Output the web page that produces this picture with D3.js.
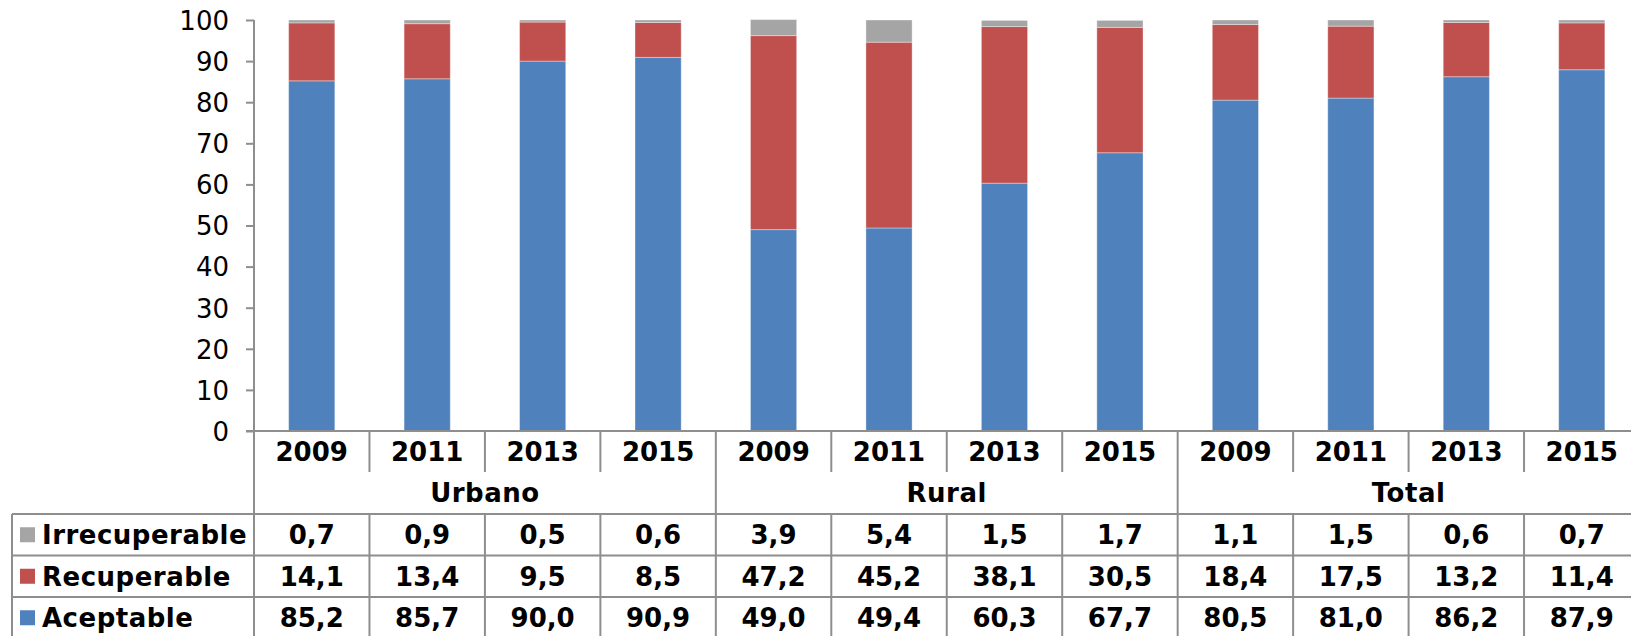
<!DOCTYPE html>
<html><head><meta charset="utf-8">
<script src="https://cdn.jsdelivr.net/npm/d3@7"></script>
<style>html,body{margin:0;padding:0;background:#fff;overflow:hidden}svg{display:block}</style>
</head><body><div id="chart"></div>
<script>
const years = ["2009","2011","2013","2015"];
const groups = ["Urbano","Rural","Total"];
const seriesNames = ["Irrecuperable","Recuperable","Aceptable"];
const irrecuperable = [0.7,0.9,0.5,0.6,3.9,5.4,1.5,1.7,1.1,1.5,0.6,0.7];
const recuperable = [14.1,13.4,9.5,8.5,47.2,45.2,38.1,30.5,18.4,17.5,13.2,11.4];
const aceptable = [85.2,85.7,90.0,90.9,49.0,49.4,60.3,67.7,80.5,81.0,86.2,87.9];
const yTicks = [0,10,20,30,40,50,60,70,80,90,100];
const colors = {Irrecuperable:"#A5A5A5", Recuperable:"#C0504D", Aceptable:"#4F81BD"};

(function(){
const W = 1631, H = 636;
const pLeft = 254, pRight = 1639.5, pTop = 20, pBottom = 431;
const gridColor = "#8e8e8e";
const font = "DejaVu Sans, Verdana, sans-serif";

const cols = d3.range(12);
const rows = cols.map(i => ({i, group: groups[Math.floor(i/4)], year: years[i%4],
  Aceptable: aceptable[i], Recuperable: recuperable[i], Irrecuperable: irrecuperable[i]}));

const svg = d3.select("#chart").append("svg").attr("width", W).attr("height", H);

const x = d3.scaleBand().domain(cols).range([pLeft, pRight]).paddingInner(0.6).paddingOuter(0.3);
const xc = d3.scaleBand().domain(cols).range([pLeft, pRight]).padding(0);
const y = d3.scaleLinear().domain([0,100]).range([pBottom, pTop]);

const stack = d3.stack().keys(["Aceptable","Recuperable","Irrecuperable"]);
const stacked = stack(rows);

svg.append("g").selectAll("g").data(stacked).join("g")
  .attr("fill", d => colors[d.key])
  .selectAll("rect").data(d => d).join("rect")
  .attr("x", d => x(d.data.i))
  .attr("width", x.bandwidth())
  .attr("y", d => y(d[1]))
  .attr("height", d => y(d[0]) - y(d[1]))
  .attr("stroke", "rgba(255,255,255,0.35)").attr("stroke-width", 1);

const yAxis = d3.axisLeft(y).tickValues(yTicks).tickSize(8).tickPadding(17);
const ga = svg.append("g").attr("transform", `translate(${pLeft},0)`).call(yAxis);
ga.select(".domain").remove();
ga.selectAll(".tick line").attr("stroke", gridColor).attr("stroke-width", 2);
ga.selectAll(".tick text").attr("font-family", font).attr("font-size", 26).attr("fill", "#000").attr("dy", "0.36em");

const lines = svg.append("g").attr("stroke", gridColor).attr("stroke-width", 2);
lines.append("line").attr("x1", pLeft).attr("x2", pLeft).attr("y1", pTop).attr("y2", H);
lines.append("line").attr("x1", pLeft - 8).attr("x2", pRight).attr("y1", pBottom).attr("y2", pBottom);

const yearRowBottom = 472, groupLineY = 514, rowH = 41.5;
const tableLeft = 12;
cols.slice(1).forEach(i => {
  const xx = xc(i);
  const isGroup = i % 4 === 0;
  lines.append("line").attr("x1", xx).attr("x2", xx).attr("y1", pBottom).attr("y2", isGroup ? H : yearRowBottom);
  if (!isGroup) lines.append("line").attr("x1", xx).attr("x2", xx).attr("y1", groupLineY).attr("y2", H);
});
[0,1,2].forEach(r => {
  const yy = groupLineY + r*rowH;
  lines.append("line").attr("x1", tableLeft).attr("x2", pRight).attr("y1", yy).attr("y2", yy);
});
lines.append("line").attr("x1", tableLeft).attr("x2", tableLeft).attr("y1", groupLineY).attr("y2", H);

const t = svg.append("g").attr("font-family", font).attr("font-weight", "bold").attr("font-size", 26).attr("fill", "#000");
t.selectAll("text.year").data(rows).join("text").attr("class","year")
  .attr("x", d => xc(d.i) + xc.bandwidth()/2).attr("y", 452).attr("dy","0.36em")
  .attr("text-anchor","middle").text(d => d.year);
t.selectAll("text.group").data(groups).join("text").attr("class","group")
  .attr("x", (g,gi) => (xc(gi*4) + xc(gi*4+3) + xc.bandwidth())/2).attr("y", 493).attr("dy","0.36em")
  .attr("text-anchor","middle").attr("letter-spacing", 0.5).text(g => g);

const fmt = d3.formatLocale({decimal:",", thousands:".", grouping:[3], currency:["",""]}).format(".1f");
seriesNames.forEach((s, r) => {
  const cy = groupLineY + r*rowH + rowH/2;
  svg.append("rect").attr("x", 20).attr("y", cy - 7.5).attr("width", 15).attr("height", 15).attr("fill", colors[s]);
  t.append("text").attr("x", 42).attr("y", cy).attr("dy","0.36em").attr("letter-spacing", 0.5).text(s);
  t.selectAll(null).data(rows).join("text")
    .attr("x", d => xc(d.i) + xc.bandwidth()/2).attr("y", cy).attr("dy","0.36em")
    .attr("text-anchor","middle").text(d => fmt(d[s]));
});
})();
</script></body></html>
